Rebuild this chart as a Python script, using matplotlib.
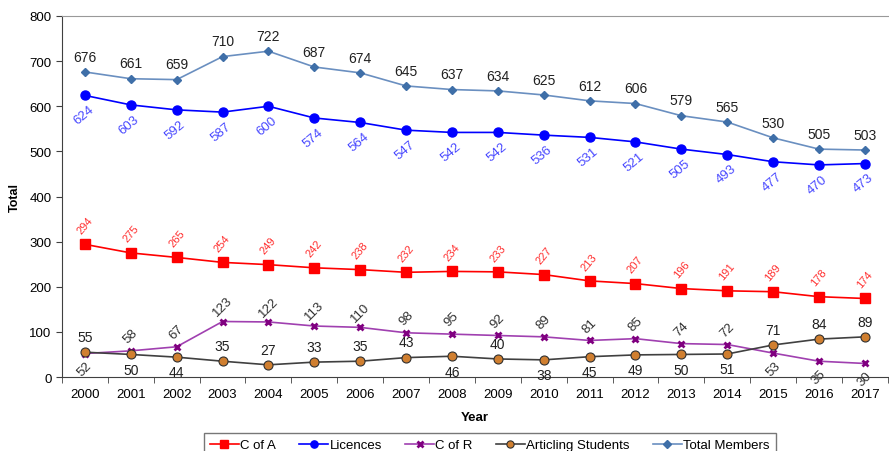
import numpy as np
import matplotlib.pyplot as plt

plt.rcParams['font.family'] = ['Liberation Sans', 'DejaVu Sans']

years = list(range(2000, 2018))
total_members = [676, 661, 659, 710, 722, 687, 674, 645, 637, 634, 625, 612, 606, 579, 565, 530, 505, 503]
licences = [624, 603, 592, 587, 600, 574, 564, 547, 542, 542, 536, 531, 521, 505, 493, 477, 470, 473]
c_of_a = [294, 275, 265, 254, 249, 242, 238, 232, 234, 233, 227, 213, 207, 196, 191, 189, 178, 174]
c_of_r = [52, 58, 67, 123, 122, 113, 110, 98, 95, 92, 89, 81, 85, 74, 72, 53, 35, 30]
articling = [55, 50, 44, 35, 27, 33, 35, 43, 46, 40, 38, 45, 49, 50, 51, 71, 84, 89]

# which labels sit above (+1) or below (-1) their point
c_of_r_side = [-1] + [1] * 14 + [-1, -1, -1]
articling_side = [1, -1, -1, 1, 1, 1, 1, 1, -1, 1, -1, -1, -1, -1, -1, 1, 1, 1]

x = np.arange(len(years))

fig = plt.figure(figsize=(8.89, 4.52), dpi=100)
ax = fig.add_axes([0.0697, 0.1637, 0.929, 0.7987])

ax.plot(x, c_of_a, color='#ff0000', lw=1.2, marker='s', ms=6.5, mfc='#ff0000', mec='#ff0000', label='C of A')
ax.plot(x, licences, color='#0000ff', lw=1.2, marker='o', ms=6.5, mfc='#0000ff', mec='#0000ff', label='Licences')
ax.plot(x, c_of_r, color='#a040b0', lw=1.2, marker='x', ms=5, mew=2, mec='#800080', label='C of R')
ax.plot(x, articling, color='#404040', lw=1.2, marker='o', ms=6.5, mfc='#d07f30', mec='#303030', mew=0.8,
        label='Articling Students')
ax.plot(x, total_members, color='#6a8fc0', lw=1.2, marker='D', ms=4.5, mfc='#3f6fa8', mec='#3f6fa8',
        label='Total Members')

for i in x:
    ax.annotate(str(total_members[i]), (i, total_members[i]), xytext=(0, 11), textcoords='offset points',
                ha='center', va='center', fontsize=10, color='#202020')
    ax.annotate(str(licences[i]), (i, licences[i]), xytext=(-1, -14), textcoords='offset points',
                ha='center', va='center', fontsize=9.5, color='#4848ff', rotation=40)
    ax.annotate(str(c_of_a[i]), (i, c_of_a[i]), xytext=(0, 14), textcoords='offset points',
                ha='center', va='center', fontsize=8, color='#ff3030', rotation=50)
    ax.annotate(str(c_of_r[i]), (i, c_of_r[i]), xytext=(0, 11 * c_of_r_side[i]), textcoords='offset points',
                ha='center', va='center', fontsize=9.5, color='#303030', rotation=45)
    ax.annotate(str(articling[i]), (i, articling[i]), xytext=(0, 11 * articling_side[i]),
                textcoords='offset points', ha='center', va='center', fontsize=10, color='#202020')

ax.set_xlim(-0.5, len(years) - 0.5)
ax.set_ylim(0, 800)
ax.set_yticks(range(0, 801, 100))
ax.set_xticks(x)
ax.set_xticklabels([str(y) for y in years])
ax.set_xticks(np.arange(-0.5, len(years), 1), minor=True)
ax.tick_params(axis='x', which='major', length=0, pad=8, labelsize=9.5)
ax.tick_params(axis='x', which='minor', length=4, direction='out', color='#404040')
ax.tick_params(axis='y', length=4, direction='out', labelsize=9.5, color='#404040')

ax.spines['right'].set_visible(False)
ax.spines['top'].set_color('#999999')
ax.spines['left'].set_color('#404040')
ax.spines['bottom'].set_color('#404040')

ax.set_xlabel('Year', fontsize=9.5, fontweight='bold', labelpad=8)
ax.set_ylabel('Total', fontsize=9, fontweight='bold', labelpad=6)

fig.legend(loc='upper left', bbox_to_anchor=(204 / 889, 1 - 434 / 452), ncol=5, fontsize=9.5,
           frameon=True, fancybox=False, edgecolor='#555555', handlelength=2.2, handletextpad=0.1,
           columnspacing=1.75, borderpad=0.45, borderaxespad=0, markerscale=0.8)

fig.savefig('out.png', dpi=100)
